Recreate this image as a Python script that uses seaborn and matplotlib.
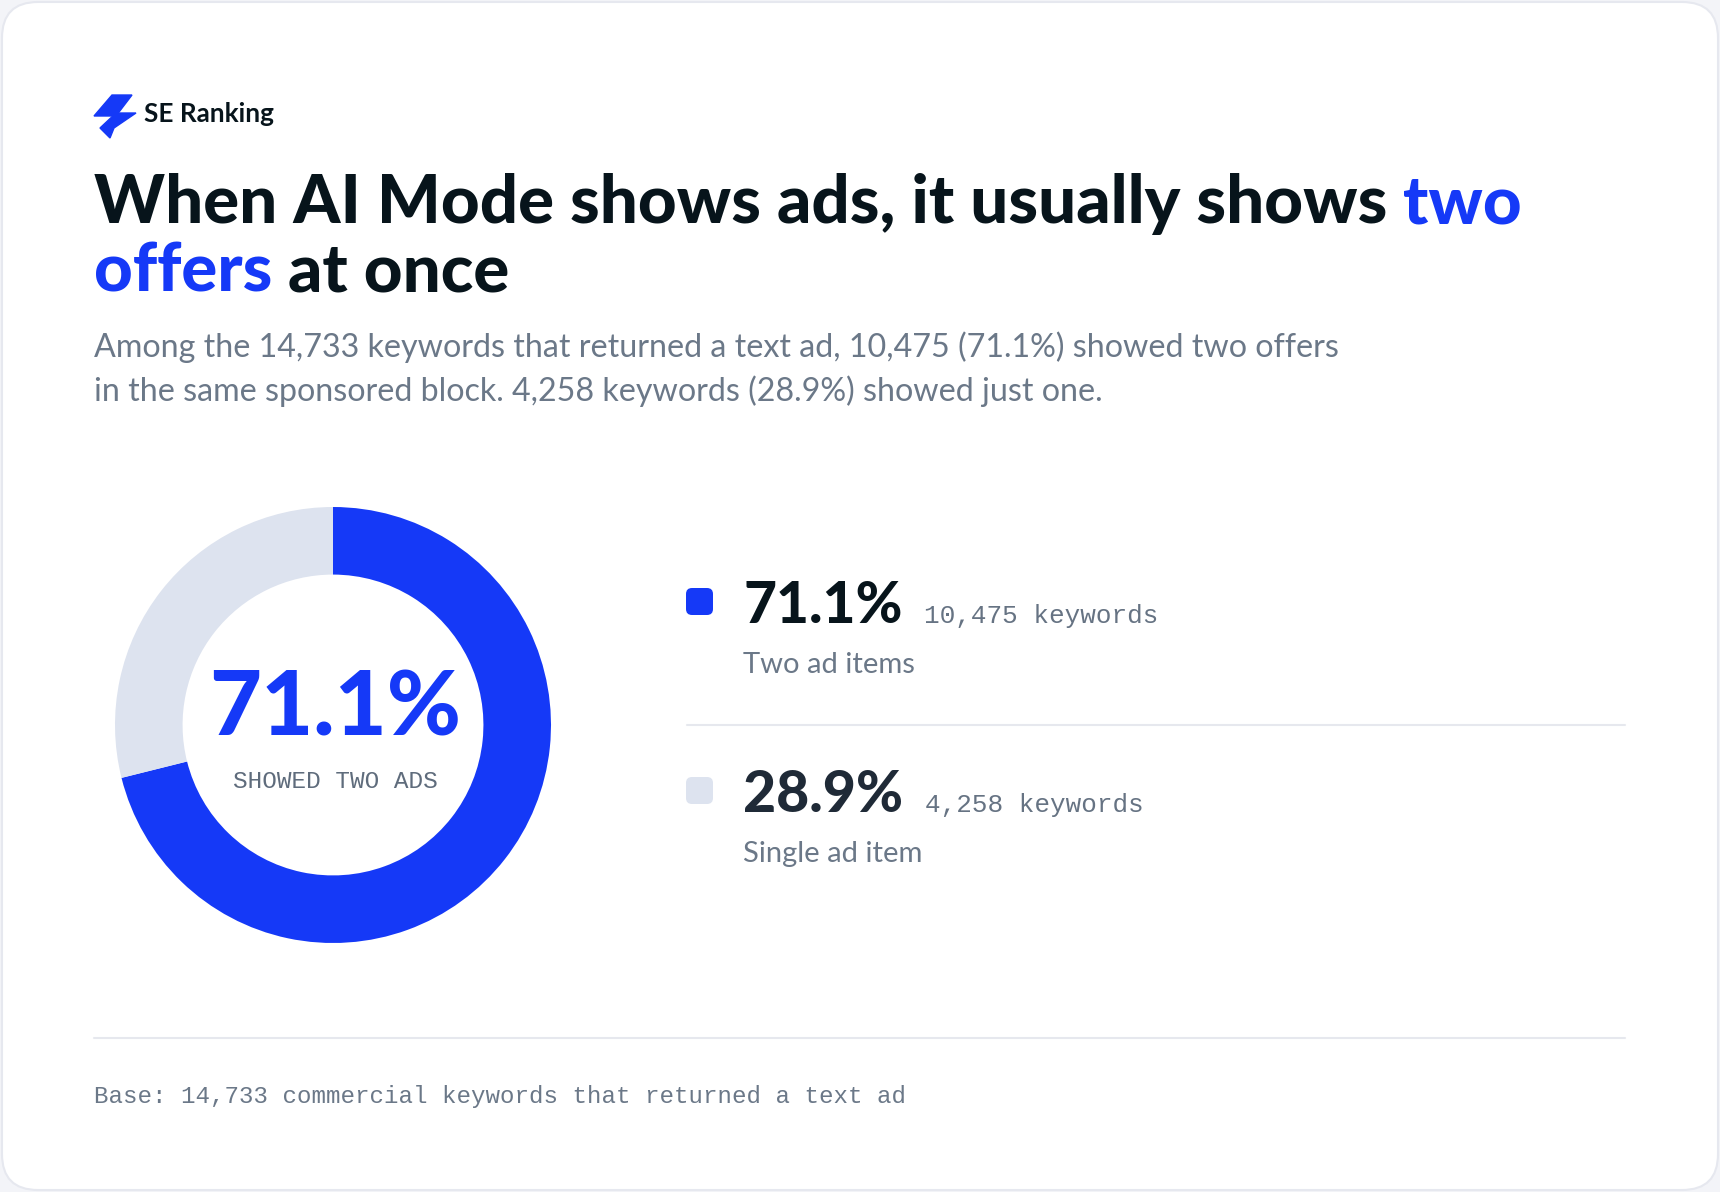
import numpy as np
import pandas as pd
import matplotlib.pyplot as plt
import seaborn as sns
from matplotlib.patches import FancyBboxPatch, Polygon

# Data
labels = ['Two ad items', 'Single ad item']
shares = [71.1, 28.9]
keywords = [10475, 4258]
total_keywords = 14733
colors = ['#1539f7', '#dde3ef']

sns.set_theme(style='white')
plt.rcParams['font.family'] = ['Lato', 'DejaVu Sans']

W, H = 1720, 1192
fig = plt.figure(figsize=(W / 100, H / 100), dpi=100)
fig.patch.set_facecolor('#f3f4f8')

# overlay axes in pixel coordinates
ax = fig.add_axes([0, 0, 1, 1])
ax.set_xlim(0, W)
ax.set_ylim(H, 0)
ax.axis('off')

card = FancyBboxPatch((2, 2), W - 4, H - 4, boxstyle='round,pad=0,rounding_size=36',
                      facecolor='white', edgecolor='#e6e8ef', linewidth=1.5)
ax.add_patch(card)

dark = '#07141b'
gray = '#6b7888'
mono_gray = '#667383'
blue = colors[0]

fig.canvas.draw()
r = fig.canvas.get_renderer()
def px_width(t):
    return t.get_window_extent(renderer=r).width

def fit(t, target):
    # scale font size so the text spans the target width in pixels
    t.set_fontsize(t.get_fontsize() * target / px_width(t))
    return t

# Logo
ax.add_patch(Polygon([[94, 116], [112, 95], [132, 95], [116, 116]], closed=True, color=blue))
ax.add_patch(Polygon([[100, 128], [116, 113], [136, 113], [114, 128], [110, 138]], closed=True, color=blue))
fit(ax.text(144, 114, 'SE Ranking', fontsize=18, fontweight='bold', color=dark, va='center', ha='left'), 130)

# Title with coloured words
t1 = ax.text(94, 223, 'When AI Mode shows ads, it usually shows ', fontsize=44, fontweight='black',
             color=dark, va='baseline', ha='left')
tw = ax.text(0, 223, 'two', fontsize=44, fontweight='black', color=blue, va='baseline', ha='left')
scale = 1429 / (px_width(t1) + px_width(tw))
tsize = 44 * scale
t1.set_fontsize(tsize)
tw.set_fontsize(tsize)
tw.set_x(94 + px_width(t1))
t2 = ax.text(94, 291, 'offers', fontsize=tsize, fontweight='black', color=blue, va='baseline', ha='left')
ax.text(94 + px_width(t2), 291, ' at once', fontsize=tsize, fontweight='black', color=dark,
        va='baseline', ha='left')

sub1 = 'Among the {:,} keywords that returned a text ad, {:,} ({}%) showed two offers'.format(
    total_keywords, keywords[0], shares[0])
sub2 = 'in the same sponsored block. {:,} keywords ({}%) showed just one.'.format(keywords[1], shares[1])
s1 = fit(ax.text(94, 357, sub1, fontsize=21, color=gray, va='baseline', ha='left'), 1246)
ax.text(94, 401, sub2, fontsize=s1.get_fontsize(), color=gray, va='baseline', ha='left')

# Donut
cx, cy, rad = 333, 725, 218
dax = fig.add_axes([(cx - rad) / W, 1 - (cy + rad) / H, 2 * rad / W, 2 * rad / H])
dax.pie(shares, colors=colors, startangle=90, counterclock=False,
        wedgeprops=dict(width=0.31, edgecolor='none'))
dax.set_xlim(-1, 1)
dax.set_ylim(-1, 1)
dax.set_aspect('equal')
dax.axis('off')
fit(ax.text(cx + 2, 736, '{}%'.format(shares[0]), fontsize=64, fontweight='black', color=blue,
            ha='center', va='baseline'), 252)
fit(ax.text(cx + 2, 781, 'SHOWED TWO ADS', fontsize=17, color='#5f6c7c', family='Liberation Mono',
            ha='center', va='center'), 204)

# Legend
rows_y = [623, 812]
pct_colors = [dark, '#1f2a37']
for i, (lab, sh, kw) in enumerate(zip(labels, shares, keywords)):
    y = rows_y[i]
    ax.add_patch(FancyBboxPatch((686, y - 35), 27, 27, boxstyle='round,pad=0,rounding_size=6',
                                facecolor=colors[i], edgecolor='none'))
    p = ax.text(743, y, '{}%'.format(sh), fontsize=40, fontweight='black', color=pct_colors[i],
                ha='left', va='baseline')
    fit(p, 159 if i == 0 else 160)
    ax.text(743 + px_width(p) + 22, y, '{:,} keywords'.format(kw), fontsize=18.7, color=mono_gray,
            family='Liberation Mono', ha='left', va='baseline')
    ax.text(743, y + 50, lab, fontsize=21, color=gray, ha='left', va='baseline')

ax.plot([687, 1625], [725, 725], color='#e6e8ee', lw=1.5)
ax.plot([94, 1625], [1038, 1038], color='#e6e8ee', lw=1.5)

ax.text(94, 1096, 'Base: {:,} commercial keywords that returned a text ad'.format(total_keywords),
        fontsize=17.4, color=gray, family='Liberation Mono', ha='left', va='center')

fig.savefig('out.png', dpi=100, facecolor=fig.get_facecolor())
